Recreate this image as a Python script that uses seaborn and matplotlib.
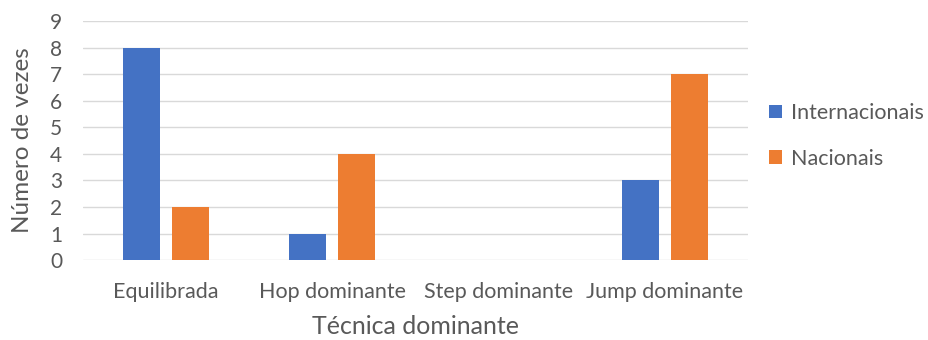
import matplotlib
matplotlib.use("Agg")
import matplotlib.pyplot as plt
import seaborn as sns
import pandas as pd

categories = ["Equilibrada", "Hop dominante", "Step dominante", "Jump dominante"]
internacionais = [8, 1, 0, 3]
nacionais = [2, 4, 0, 7]
series_names = ["Internacionais", "Nacionais"]
y_ticks = list(range(0, 10))

df = pd.DataFrame({
    "categoria": categories * 2,
    "valor": internacionais + nacionais,
    "grupo": [series_names[0]] * len(categories) + [series_names[1]] * len(categories),
})

sns.set_theme(style="white")
plt.rcParams["font.family"] = ["Lato", "DejaVu Sans"]
text_color = "#595959"

fig = plt.figure(figsize=(9.29, 3.40), dpi=100)
ax = fig.add_axes([0.0893, 0.235, 0.716, 0.703])

sns.barplot(
    data=df, x="categoria", y="valor", hue="grupo", order=categories,
    hue_order=series_names, palette=["#4472C4", "#ED7D31"], saturation=1,
    width=0.59, gap=0.245, linewidth=0, ax=ax, errorbar=None,
)

ax.set_ylim(0, 9)
ax.set_xlim(-0.5, len(categories) - 0.5)
ax.set_yticks(y_ticks)
ax.yaxis.grid(True, color="#D9D9D9", linewidth=1.0)
ax.set_axisbelow(True)
for s in ax.spines.values():
    s.set_visible(False)

ax.tick_params(axis="y", labelsize=15, colors=text_color, length=0, pad=15)
ax.tick_params(axis="x", labelsize=15.5, colors=text_color, length=0, pad=16)
ax.set_ylabel("Número de vezes", fontsize=17.5, color=text_color, labelpad=12)
ax.set_xlabel("Técnica dominante", fontsize=18, color=text_color, labelpad=9)

ax.legend_.remove()
handles, labels = ax.get_legend_handles_labels()
fig.legend(handles, labels, loc="center left", bbox_to_anchor=(0.828, 0.60),
           frameon=False, fontsize=15.5, labelcolor=text_color,
           handlelength=0.6, handleheight=0.6, handletextpad=0.4,
           labelspacing=1.2, borderaxespad=0, borderpad=0)

fig.savefig("out.png", dpi=100, facecolor="white")
